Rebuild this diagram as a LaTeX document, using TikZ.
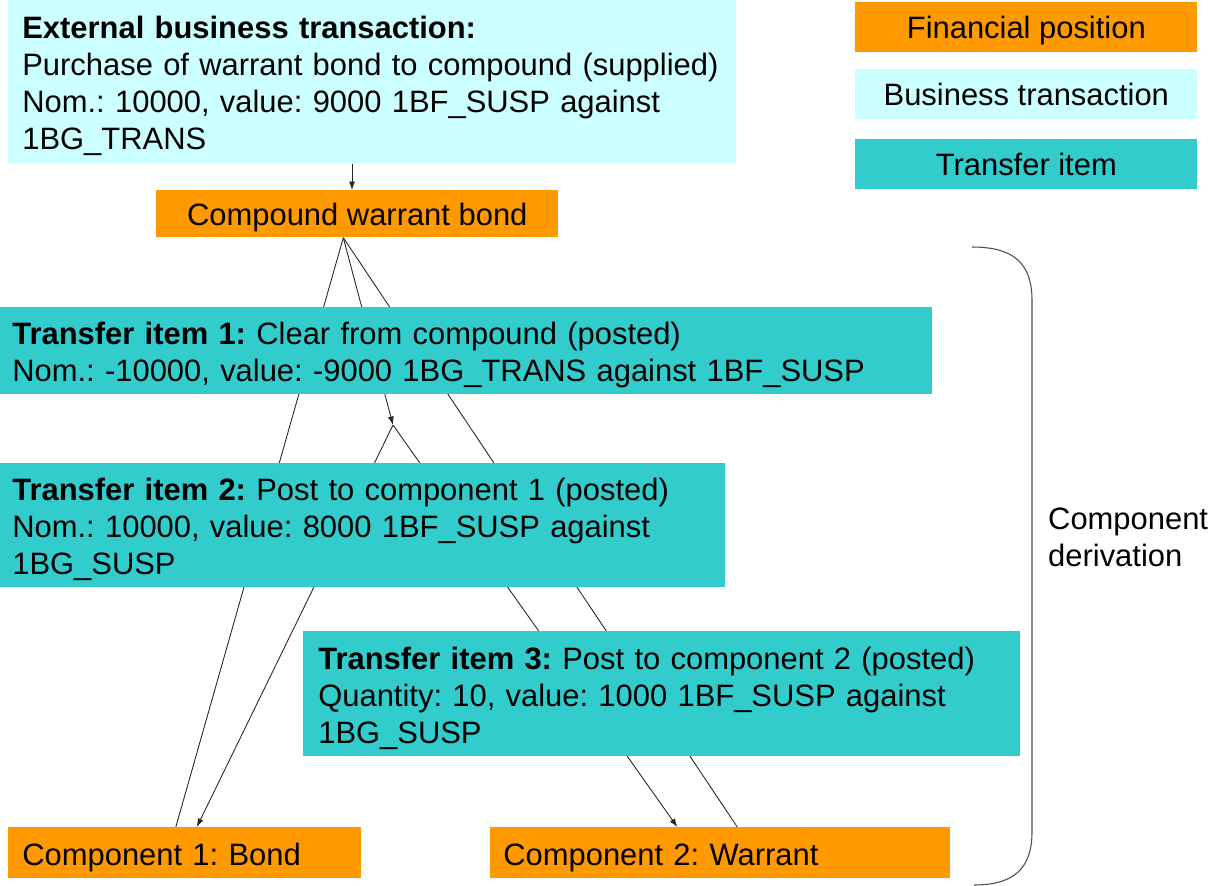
\documentclass[tikz,border=0pt]{standalone}
\usepackage{fontspec}
\setmainfont{Liberation Sans}
\frenchspacing
\usepackage{tikz}
\usetikzlibrary{
    positioning,
    arrows.meta,
    calc,
    backgrounds,
}
\definecolor{finpos}{HTML}{FF9900}
\definecolor{bustrans}{HTML}{CCFFFF}
\definecolor{transitem}{HTML}{33CCCC}
\tikzset{
    % Basic box styles
    box/.style={rectangle, anchor=north west, inner ysep=0pt,
                font=\fontsize{17.6}{21}\selectfont},
    position box/.style={box, fill=finpos},
    transaction box/.style={box, fill=bustrans},
    transfer box/.style={box, fill=transitem},
    text box/.style={align=left, minimum height=#1,
                     execute at begin node={\rule{0pt}{17.5pt}}},
    legend box/.style={box, inner xsep=0pt, minimum width=6.84cm, minimum height=1cm,
                       text depth=0pt},
    % Arrow styles
    link/.style={line width=0.5pt, black!85},
    arrow/.style={link, -{Latex[length=1.7mm, width=1.2mm]}},
    bracket/.style={line width=0.6pt, black!70},
}

\begin{document}
\begin{tikzpicture}[x=0.02cm, y=-0.02cm]
    \useasboundingbox (0,0) rectangle (1221,886);

    % Business transaction and compound
    \node[transaction box, text box=3.26cm, inner xsep=0.28cm, text width=14cm] (ext) at (8,0)
        {\textbf{External business transaction:}\\
         Purchase of warrant bond to compound (supplied)\\
         Nom.: 10000, value: 9000 1BF\_SUSP against\\
         1BG\_TRANS};
    \node[position box, inner xsep=0pt, minimum width=8.04cm, minimum height=0.94cm,
          text depth=0pt] (cwb) at (156,190)
        {Compound warrant bond};

    % Legend
    \node[legend box, fill=finpos] (lgfin) at (855,2) {Financial position};
    \node[legend box, fill=bustrans] (lgbus) at (855,69) {Business transaction};
    \node[legend box, fill=transitem] (lgtra) at (855,139) {Transfer item};

    % Transfer items
    \node[transfer box, text box=1.74cm, inner xsep=0.24cm, text width=18.16cm] (ti1) at (0,307)
        {\textbf{Transfer item 1:} Clear from compound (posted)\\
         Nom.: -10000, value: -9000 1BG\_TRANS against 1BF\_SUSP};
    \node[transfer box, text box=2.48cm, inner xsep=0.24cm, text width=14.02cm] (ti2) at (0,463)
        {\textbf{Transfer item 2:} Post to component 1 (posted)\\
         Nom.: 10000, value: 8000 1BF\_SUSP against\\
         1BG\_SUSP};
    \node[transfer box, text box=2.5cm, inner xsep=0.3cm, text width=13.74cm] (ti3) at (303,631)
        {\textbf{Transfer item 3:} Post to component 2 (posted)\\
         Quantity: 10, value: 1000 1BF\_SUSP against\\
         1BG\_SUSP};

    % Components
    \node[position box, text box=1.02cm, inner xsep=0.28cm, text width=6.5cm] (bond) at (8,827)
        {Component 1: Bond};
    \node[position box, text box=1.02cm, inner xsep=0.26cm, text width=8.68cm] (warrant) at (490,827)
        {Component 2: Warrant};

    % Connectors
    \coordinate (feed) at (352,190);
    \coordinate (fan) at ($(cwb.south)+(-14,0)$);
    \coordinate (fork) at (393,425);
    \draw[arrow] (ext.south -| feed) -- (feed);
    \begin{scope}[on background layer]
        \draw[arrow] (fan) -- (fork);
        \draw[arrow] (fork) -- ($(bond.north)+(12,0)$);
        \draw[arrow] (fork) -- ($(warrant.north)+(-43,0)$);
        \draw[link] (fan) -- ($(bond.north)+(-9,0)$);
        \draw[link] (fan) -- ($(warrant.north)+(17,0)$);
    \end{scope}

    % Bracket
    \draw[bracket] (972,247) .. controls (1012,247) and (1032,262) .. (1032,300)
        -- (1032,832) .. controls (1032,870) and (1012,885) .. (974,885);
    \node[anchor=west, align=left, font=\fontsize{17.6}{21}\selectfont] (deriv) at (1042,537)
        {Component\\derivation};
\end{tikzpicture}
\end{document}
